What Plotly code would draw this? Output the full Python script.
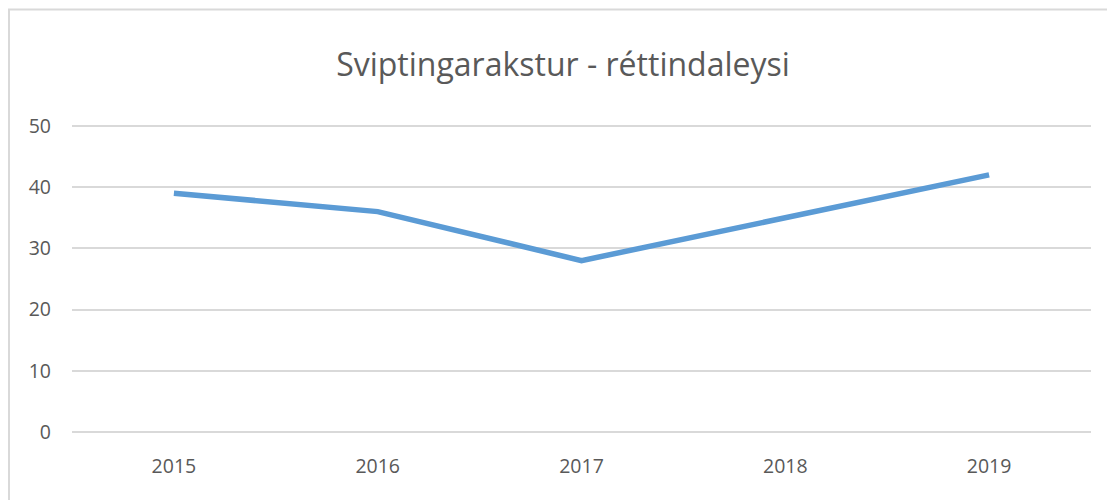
import plotly.graph_objects as go

years = ["2015", "2016", "2017", "2018", "2019"]
values = [39, 36, 28, 35, 42]
y_ticks = [0, 10, 20, 30, 40, 50]
title_text = "Sviptingarakstur - réttindaleysi"

# the page has an 8px body margin, so figure coords = page coords - 8
W, H = 1115, 500
L, R, T, B = 64, 32, 116, 74
pw = W - L - R
ph = H - T - B

def px_x(px):
    return (px - L) / pw

def px_y(py):
    return (H - B - py) / ph

fig = go.Figure()
fig.add_trace(go.Scatter(
    x=years, y=values, mode="lines",
    line=dict(color="#5B9BD5", width=5.5, shape="linear"),
    showlegend=False, hoverinfo="x+y",
))

fig.update_layout(
    width=W, height=H,
    margin=dict(l=L, r=R, t=T, b=B, autoexpand=False),
    paper_bgcolor="white", plot_bgcolor="white",
    font=dict(family="Open Sans, Noto Sans, sans-serif", color="#595959", size=19.5),
    title=dict(text=title_text, x=(555 / W), xanchor="center", y=1 - 57 / H, yanchor="middle",
               font=dict(size=32, color="#595959")),
    xaxis=dict(type="category", range=[-0.5, 4.5], showgrid=False, zeroline=False,
               showline=False, ticks="", tickfont=dict(size=19.5, color="#595959"),
               ticklabelstandoff=18, automargin=False),
    yaxis=dict(range=[-0.3, 50.3], tickvals=y_ticks, showgrid=True, gridcolor="#D9D9D9",
               gridwidth=1.5, zeroline=False, showline=False, ticks="",
               tickfont=dict(size=19.5, color="#595959"), ticklabelstandoff=20,
               automargin=False),
    shapes=[
        dict(type="line", xref="paper", yref="paper", x0=px_x(0), x1=px_x(W + 20),
             y0=px_y(1.5), y1=px_y(1.5), line=dict(color="#D9D9D9", width=2)),
        dict(type="line", xref="paper", yref="paper", x0=px_x(1), x1=px_x(1),
             y0=px_y(1.5), y1=px_y(H + 20), line=dict(color="#D9D9D9", width=2)),
    ],
)

fig.write_html("out.html")
